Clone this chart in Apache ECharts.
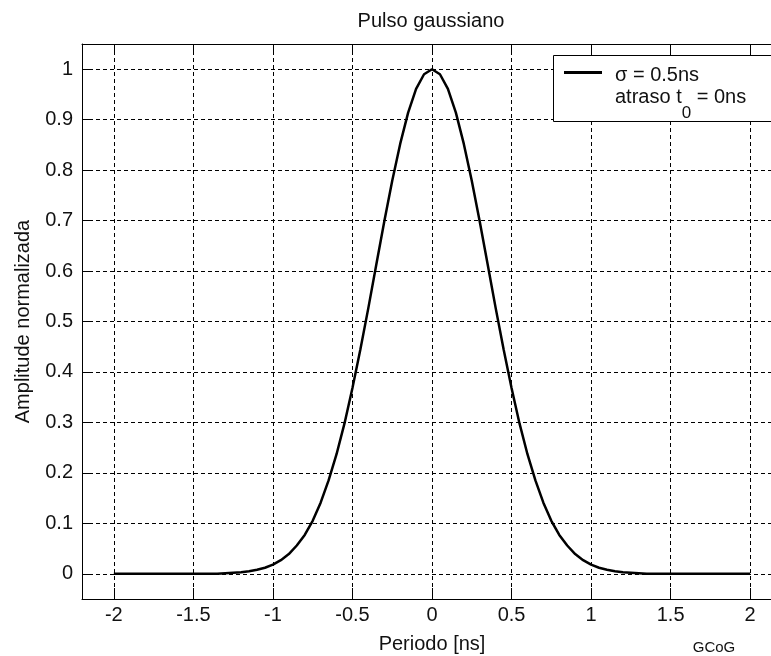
<!DOCTYPE html>
<html>
<head>
<meta charset="utf-8">
<script src="https://cdn.jsdelivr.net/npm/echarts@6/dist/echarts.min.js"></script>
<style>
  html, body { margin: 0; padding: 0; background: #fff; }
  #chart { width: 771px; height: 656px; }
</style>
</head>
<body>
<div id="chart"></div>
<script>
// periodo [ns] e amplitude
var tempos = [-2, -1.35,
    -1.3, -1.25, -1.2, -1.15, -1.1, -1.05, -1, -0.95, -0.9, -0.85, -0.8, -0.75, -0.7,
    -0.65, -0.6, -0.55, -0.5, -0.45, -0.4, -0.35, -0.3, -0.25, -0.2, -0.15, -0.1, -0.05,
    0,
    0.05, 0.1, 0.15, 0.2, 0.25, 0.3, 0.35, 0.4, 0.45, 0.5, 0.55, 0.6, 0.65,
    0.7, 0.75, 0.8, 0.85, 0.9, 0.95, 1, 1.05, 1.1, 1.15, 1.2, 1.25, 1.3,
    1.35, 2];
var amplitude = [0, 0,
    0.001, 0.002, 0.003, 0.005, 0.008, 0.012, 0.018, 0.027, 0.039, 0.056, 0.077, 0.105, 0.141,
    0.185, 0.237, 0.298, 0.368, 0.445, 0.527, 0.613, 0.698, 0.779, 0.852, 0.914, 0.961, 0.990,
    1,
    0.990, 0.961, 0.914, 0.852, 0.779, 0.698, 0.613, 0.527, 0.445, 0.368, 0.298, 0.237, 0.185,
    0.141, 0.105, 0.077, 0.056, 0.039, 0.027, 0.018, 0.012, 0.008, 0.005, 0.003, 0.002, 0.001,
    0, 0];

var fonte = "'Liberation Sans', Arial, sans-serif";
var dados = tempos.map(function (t, i) { return [t, amplitude[i]]; });

// so mostra os rotulos de -2 a 2 e de 0 a 1
function rotuloX(v) { return Math.abs(v) > 2.01 ? '' : String(Number(v.toFixed(2))); }
function rotuloY(v) { return (v < -0.01 || v > 1.01) ? '' : String(Number(v.toFixed(2))); }

var option = {
    backgroundColor: '#fff',
    animation: false,
    grid: {left: 82, top: 44, right: -11, bottom: 57, outerBoundsMode: 'none'},
    xAxis: [
        {
            type: 'value', min: -2.2, max: 2.2, splitNumber: 9,
            axisLine: {show: true, onZero: false, lineStyle: {color: '#000', width: 1}},
            axisTick: {show: true, inside: true, length: 11, lineStyle: {color: '#000'}},
            axisLabel: {margin: 6, color: '#111', fontSize: 20, fontFamily: fonte, formatter: rotuloX},
            splitLine: {show: true, lineStyle: {color: '#000', width: 1, type: [4, 3]}}
        },
        {
            type: 'value', position: 'top', min: -2.2, max: 2.2, splitNumber: 9,
            axisLine: {show: true, onZero: false, lineStyle: {color: '#000', width: 1}},
            axisTick: {show: true, inside: true, length: 11, lineStyle: {color: '#000'}},
            axisLabel: {show: false},
            splitLine: {show: false}
        }
    ],
    yAxis: {
        type: 'value', min: -0.05, max: 1.05, splitNumber: 11,
        axisLine: {show: true, onZero: false, lineStyle: {color: '#000', width: 1}},
        axisTick: {show: true, inside: true, length: 11, lineStyle: {color: '#000'}},
        axisLabel: {margin: 9, color: '#111', fontSize: 20, fontFamily: fonte, formatter: rotuloY},
        splitLine: {show: true, lineStyle: {color: '#000', width: 1, type: [4, 3]}}
    },
    graphic: [
        {type: 'text', x: 431, y: 11, z: 100,
            style: {text: 'Pulso gaussiano', fill: '#111', font: '20px ' + fonte, textAlign: 'center'}},
        {type: 'text', x: 432, y: 634, z: 100,
            style: {text: 'Periodo [ns]', fill: '#111', font: '20px ' + fonte, textAlign: 'center', verticalAlign: 'top'}},
        {type: 'text', x: 23, y: 321.5, rotation: Math.PI / 2, z: 100,
            style: {text: 'Amplitude normalizada', fill: '#111', font: '20px ' + fonte,
                textAlign: 'center', verticalAlign: 'middle'}},
        // caixa da legenda: fundo branco e borda aberta a direita (cortada pela imagem)
        {type: 'rect', z: 100, shape: {x: 553.5, y: 55.5, width: 217.5, height: 66},
            style: {fill: '#fff', stroke: null}},
        {type: 'polyline', z: 101,
            shape: {points: [[771, 55.5], [553.5, 55.5], [553.5, 121.5], [771, 121.5]]},
            style: {fill: null, stroke: '#000', lineWidth: 1}},
        {type: 'line', z: 101, shape: {x1: 564, y1: 72.5, x2: 602, y2: 72.5},
            style: {stroke: '#000', lineWidth: 3}},
        {type: 'text', x: 615, y: 75, z: 101,
            style: {text: 'σ = 0.5ns', fill: '#111', font: '20px ' + fonte, verticalAlign: 'middle'}},
        {type: 'text', x: 615, y: 97.5, z: 101,
            style: {
                text: '{n|atraso t}{s|0}{n| = 0ns}', verticalAlign: 'middle',
                rich: {
                    n: {fill: '#111', fontSize: 20, fontFamily: fonte, lineHeight: 20, verticalAlign: 'middle'},
                    s: {fill: '#111', fontSize: 17, fontFamily: fonte, lineHeight: 48, verticalAlign: 'bottom'}
                }
            }},
        {type: 'text', x: 714, y: 648, z: 100,
            style: {text: 'GCoG', fill: '#111', font: '15px ' + fonte, textAlign: 'center', verticalAlign: 'middle'}}
    ],
    series: [
        {
            type: 'line', name: 'pulso', data: dados,
            symbol: 'none', smooth: false,
            lineStyle: {color: '#000', width: 2.5},
            z: 5
        }
    ]
};

var myChart = echarts.init(document.getElementById('chart'));
myChart.setOption(option);
</script>
</body>
</html>
